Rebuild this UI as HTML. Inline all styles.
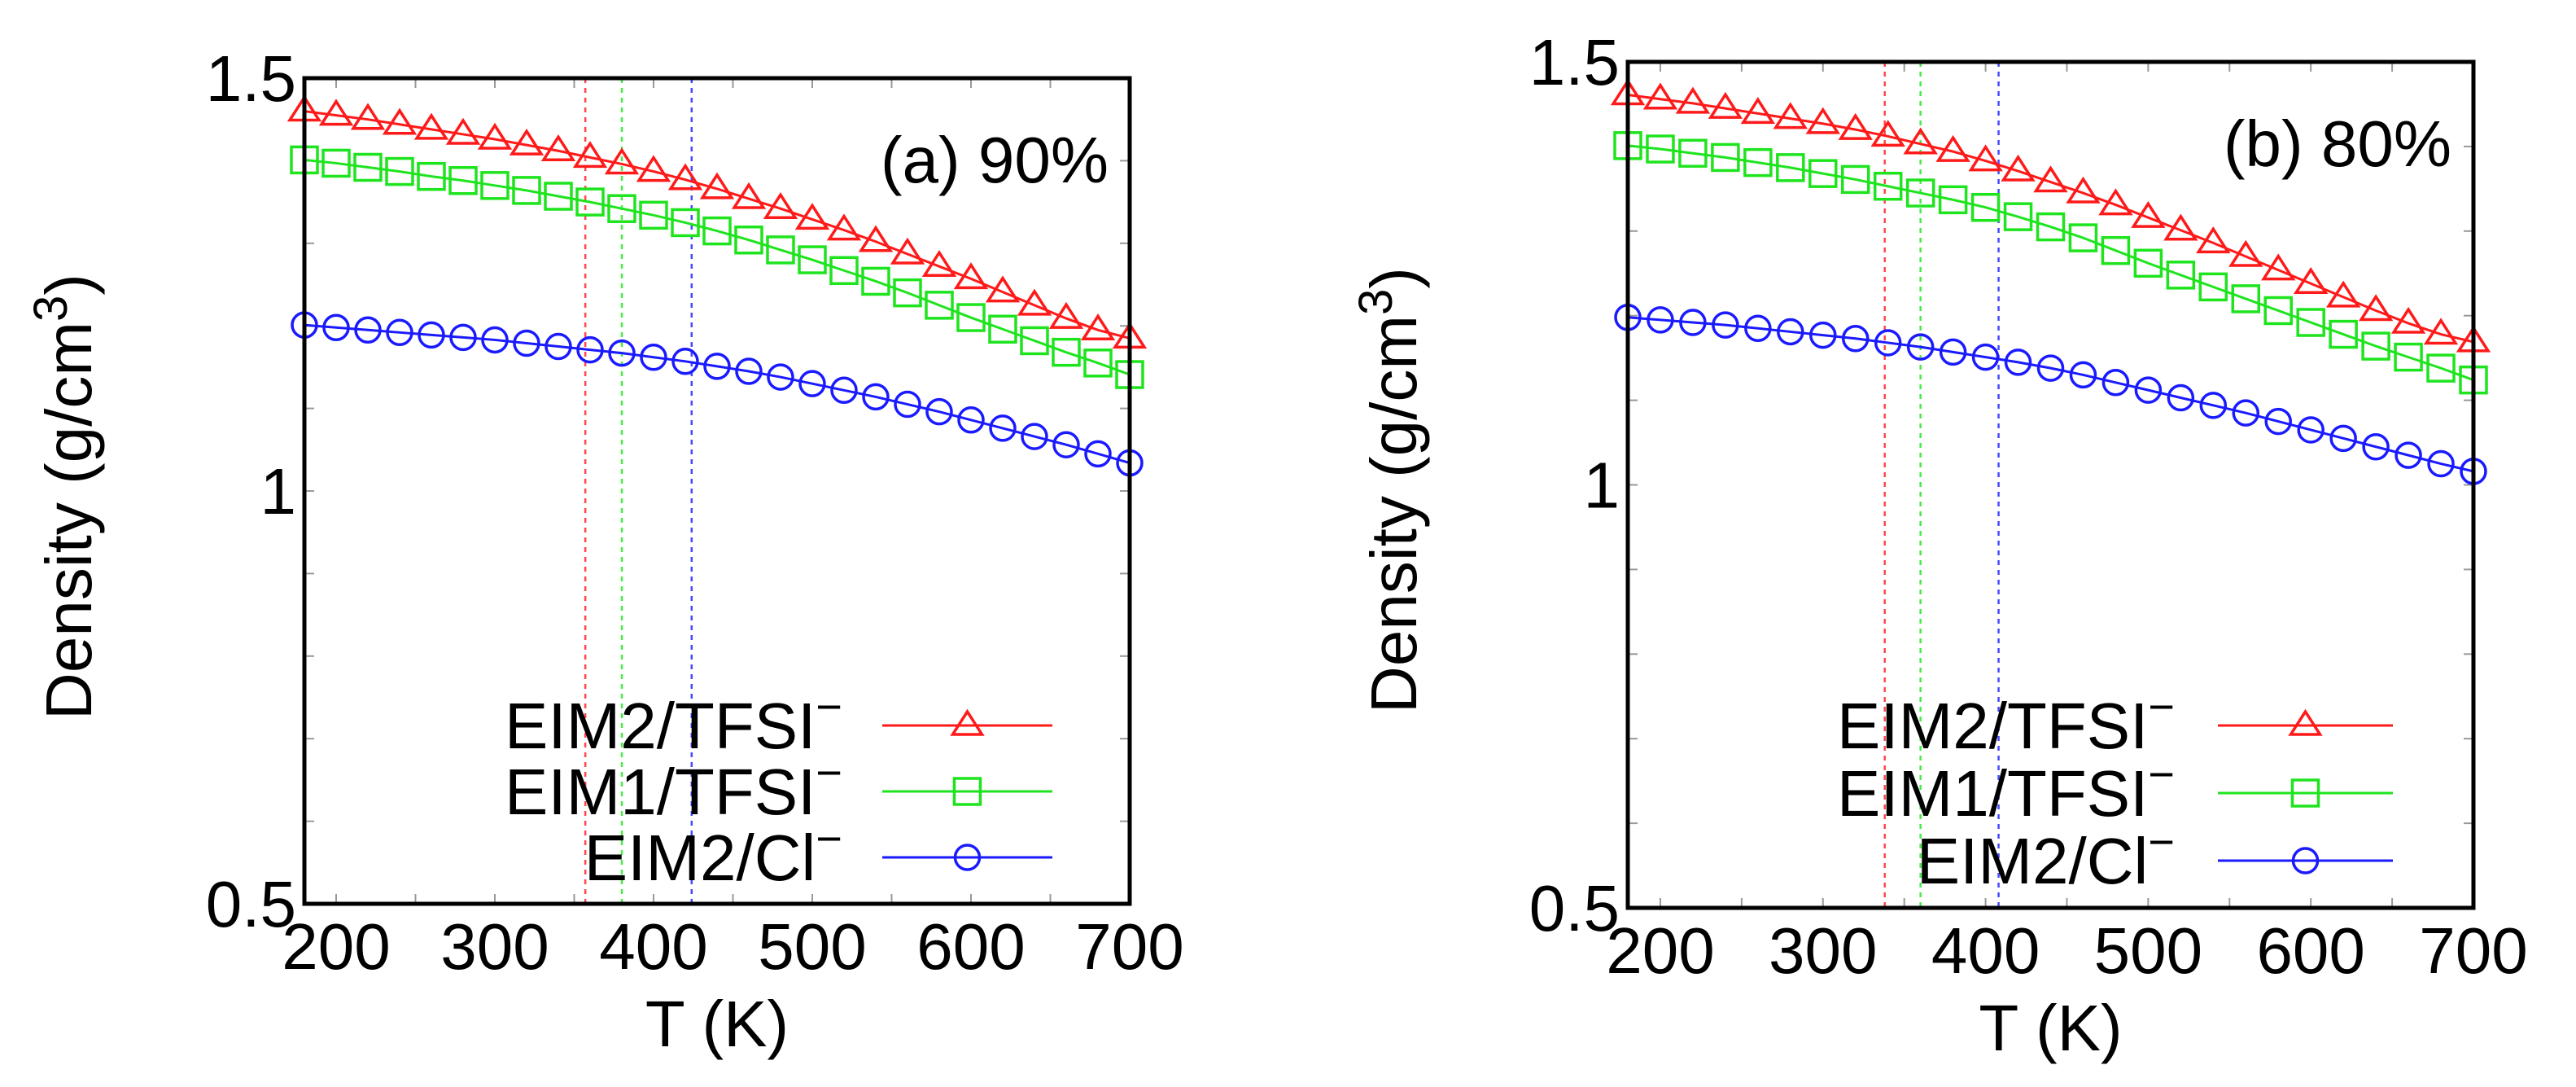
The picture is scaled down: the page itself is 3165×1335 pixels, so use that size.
<!DOCTYPE html>
<html><head><meta charset="utf-8"><style>
html,body{margin:0;padding:0;background:#fff;}
svg{display:block;font-family:"Liberation Sans",sans-serif;}
</style></head><body>
<svg id="fig" width="3165" height="1335" viewBox="0 0 3165 1335" xmlns="http://www.w3.org/2000/svg"></svg>
<script>
const temps = [180,200,220,240,260,280,300,320,340,360,380,400,420,440,460,480,500,520,540,560,580,600,620,640,660,680,700];
const aRed = [1.460,1.455,1.450,1.444,1.438,1.432,1.426,1.419,1.412,1.404,1.396,1.387,1.377,1.366,1.354,1.342,1.329,1.316,1.302,1.287,1.272,1.257,1.241,1.225,1.209,1.195,1.185];
const aGreen = [1.401,1.397,1.392,1.387,1.381,1.376,1.370,1.364,1.357,1.350,1.342,1.334,1.325,1.315,1.304,1.292,1.280,1.267,1.254,1.240,1.225,1.210,1.196,1.182,1.168,1.155,1.141];
const aBlue = [1.201,1.198,1.195,1.192,1.189,1.186,1.183,1.179,1.175,1.171,1.167,1.162,1.157,1.151,1.145,1.138,1.130,1.122,1.114,1.105,1.096,1.086,1.076,1.066,1.056,1.045,1.034];
const bRed = [1.461,1.456,1.451,1.445,1.439,1.433,1.427,1.420,1.412,1.403,1.394,1.383,1.371,1.358,1.345,1.331,1.316,1.301,1.286,1.270,1.254,1.238,1.222,1.206,1.191,1.178,1.169];
const bGreen = [1.401,1.397,1.392,1.387,1.381,1.375,1.368,1.361,1.353,1.345,1.337,1.328,1.317,1.305,1.292,1.277,1.262,1.248,1.234,1.220,1.206,1.192,1.178,1.164,1.151,1.138,1.124];
const bBlue = [1.198,1.195,1.192,1.189,1.185,1.181,1.177,1.173,1.168,1.163,1.157,1.151,1.145,1.138,1.130,1.121,1.112,1.103,1.094,1.085,1.075,1.065,1.055,1.045,1.035,1.025,1.016];
const aVlines = [357,380,424];
const bVlines = [338,360,408];
const xTicks = [200,300,400,500,600,700];
const yTicks = [0.5,1,1.5];
const yTickLabels = ["0.5","1","1.5"];
const seriesNames = ["EIM2/TFSI","EIM1/TFSI","EIM2/Cl"];

const NS="http://www.w3.org/2000/svg";
const svg=document.getElementById('fig');
const colors=["#ff1a1a","#1ee41e","#1a1aff"];
const markers=["tri","sq","circ"];
function mk(tag,attrs,parent){const e=document.createElementNS(NS,tag);for(const k in attrs)e.setAttribute(k,attrs[k]);(parent||svg).appendChild(e);return e;}

function marker(g,type,cx,cy,c){
  let e;
  if(type==="tri"){e=mk('polygon',{points:`${cx},${cy-17} ${cx-18},${cy+11} ${cx+18},${cy+11}`,fill:'none',stroke:c,'stroke-width':3.5},g);}
  else if(type==="sq"){e=mk('rect',{x:cx-16,y:cy-16,width:32,height:32,fill:'none',stroke:c,'stroke-width':3.5},g);}
  else {e=mk('circle',{cx:cx,cy:cy,r:15,fill:'none',stroke:c,'stroke-width':3.5},g);}
  return e;
}

function panel(id,L,T,W,H,series,vlines,label,labelX,labelY,legendTextX,legendLineX1,legendLineX2,legendRows,ytitleX,ytitleY){
  const g=mk('g',{});
  
  
  const xs=v=>L+(v-180)/520*W;
  const ys=v=>T+(1.5-v)/1.0*H;
  for(let v=200;v<=700;v+=50){
    const x=xs(v);
    mk('line',{x1:x,y1:T+H,x2:x,y2:T+H-12,stroke:'#999','stroke-width':2},g);
    mk('line',{x1:x,y1:T,x2:x,y2:T+12,stroke:'#999','stroke-width':2},g);
  }
  for(let k=0;k<=10;k++){
    const y=ys(0.5+k*0.1);
    mk('line',{x1:L,y1:y,x2:L+12,y2:y,stroke:'#999','stroke-width':2},g);
    mk('line',{x1:L+W,y1:y,x2:L+W-12,y2:y,stroke:'#999','stroke-width':2},g);
  }
  vlines.forEach((v,i)=>{
    const l=mk('line',{x1:xs(v),y1:T,x2:xs(v),y2:T+H,stroke:colors[i],'stroke-width':2.5,'stroke-dasharray':'6,6',opacity:0.8},g);
    
    
  });
  series.forEach((arr,i)=>{
    const sg=mk('g',{},g);
    
    
    const pts=arr.map((v,j)=>xs(temps[j])+','+ys(v)).join(' ');
    mk('polyline',{points:pts,fill:'none',stroke:colors[i],'stroke-width':3},sg);
    arr.forEach((v,j)=>{
      const m=marker(sg,markers[i],xs(temps[j]),ys(v),colors[i]);
      
      
    });
  });
  const fr=mk('rect',{x:L,y:T,width:W,height:H,fill:'none',stroke:'#000','stroke-width':5},g);
  
  
  xTicks.forEach(v=>{
    const t=mk('text',{x:xs(v),y:T+H+80,'font-size':80,'text-anchor':'middle',fill:'#000'},g);
    t.textContent=v;
    
    
  });
  yTicks.forEach((v,i)=>{
    const t=mk('text',{x:L-10,y:ys(v)+28,'font-size':80,'text-anchor':'end',fill:'#000'},g);
    t.textContent=yTickLabels[i];
    
    
  });
  const xt=mk('text',{x:L+W/2,y:T+H+175,'font-size':80,'text-anchor':'middle',fill:'#000'},g);
  xt.textContent='T (K)';
  
  
  const yt=mk('text',{x:0,y:0,'font-size':80,'text-anchor':'middle',fill:'#000',transform:`translate(${ytitleX},${ytitleY}) rotate(-90)`},g);
  yt.innerHTML='Density (g/cm<tspan dy="-30" font-size="58">3</tspan><tspan dy="30">)</tspan>';
  
  
  const pl=mk('text',{x:labelX,y:labelY,'font-size':80,'text-anchor':'end',fill:'#000'},g);
  pl.textContent=label;
  
  
  seriesNames.forEach((n,i)=>{
    const lg=mk('g',{},g);
    
    
    const y=legendRows[i];
    const t=mk('text',{x:legendTextX,y:y+28,'font-size':80,'text-anchor':'end',fill:'#000'},lg);
    t.innerHTML=n+'<tspan dy="-32" font-size="56">&#8722;</tspan>';
    mk('line',{x1:legendLineX1,y1:y,x2:legendLineX2,y2:y,stroke:colors[i],'stroke-width':3},lg);
    marker(lg,markers[i],(legendLineX1+legendLineX2)/2,y,colors[i]);
  });
}

panel('panel-a',374,96,1014,1014,[aRed,aGreen,aBlue],aVlines,'(a) 90%',1362,224,1035,1084,1293,[891,972,1053],112,610);
panel('panel-b',2000,76,1039,1039,[bRed,bGreen,bBlue],bVlines,'(b) 80%',3012,204,2672,2725,2940,[891,974,1057],1740,602);
</script>
</body></html>
